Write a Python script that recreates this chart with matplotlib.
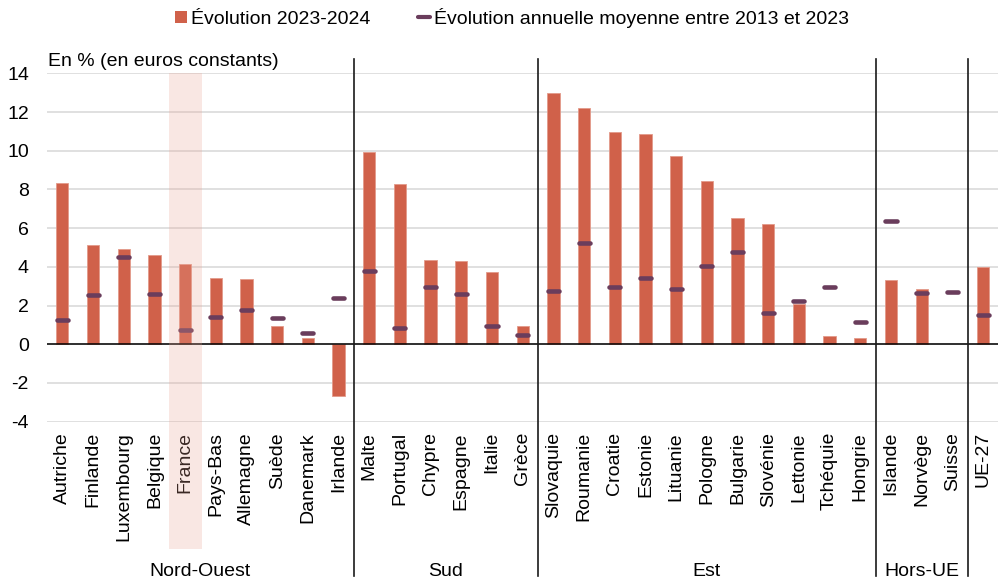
import numpy as np
import matplotlib
matplotlib.use("Agg")
import matplotlib.pyplot as plt
from matplotlib.patches import Patch, Rectangle
from matplotlib.lines import Line2D
import matplotlib.transforms as mtransforms

plt.rcParams['font.family'] = ['Liberation Sans', 'DejaVu Sans']
plt.rcParams['font.size'] = 14

# Countries, in display order
countries = ["Autriche", "Finlande", "Luxembourg", "Belgique", "France", "Pays-Bas",
             "Allemagne", "Suède", "Danemark", "Irlande",
             "Malte", "Portugal", "Chypre", "Espagne", "Italie", "Grèce",
             "Slovaquie", "Roumanie", "Croatie", "Estonie", "Lituanie", "Pologne",
             "Bulgarie", "Slovénie", "Lettonie", "Tchéquie", "Hongrie",
             "Islande", "Norvège", "Suisse", "UE-27"]

# Évolution 2023-2024 (%)
evol_2023_2024 = [8.35, 5.12, 4.93, 4.63, 4.16, 3.42, 3.37, 0.96, 0.35, -2.67,
                  9.95, 8.28, 4.33, 4.28, 3.71, 0.93,
                  13.0, 12.19, 10.97, 10.84, 9.71, 8.43, 6.52, 6.21, 2.10, 0.45, 0.31,
                  3.31, 2.88, np.nan, 4.00]

# Évolution annuelle moyenne entre 2013 et 2023 (%)
evol_moy_2013_2023 = [1.28, 2.53, 4.50, 2.59, 0.76, 1.40, 1.79, 1.38, 0.60, 2.40,
                      3.78, 0.83, 2.97, 2.59, 0.95, 0.47,
                      2.76, 5.21, 2.98, 3.43, 2.88, 4.07, 4.78, 1.60, 2.22, 2.98, 1.16,
                      6.36, 2.64, 2.72, 1.50]

# Regional groups: (label, first index, last index)
groups = [("Nord-Ouest", 0, 9), ("Sud", 10, 15), ("Est", 16, 26), ("Hors-UE", 27, 29)]
separators = [9.5, 15.5, 26.5, 29.5]
highlight = "France"

bar_color = "#D0614A"
mark_color = "#6A3D5C"
grid_color = "#DADADA"

W, H = 1001, 582
fig = plt.figure(figsize=(W / 100, H / 100), dpi=100)
ax = fig.add_axes([47 / W, 1 - 421.7 / H, (998.4 - 47) / W, 348.4 / H])

x = np.arange(len(countries))
ax.bar(x, evol_2023_2024, width=0.4, color=bar_color, edgecolor="#E39A8A",
       linewidth=0.6, zorder=2)
marks = ax.hlines(evol_moy_2013_2023, x - 0.18, x + 0.18, colors=mark_color,
                  linewidth=3.3, zorder=3)
marks.set_capstyle("round")

ax.set_xlim(-0.5, len(countries) - 0.5)
ax.set_ylim(-4, 14)
ax.set_yticks(np.arange(-4, 15, 2))
ax.set_yticklabels([str(v) for v in range(-4, 15, 2)])
ax.yaxis.grid(True, color=grid_color, linewidth=1.2, zorder=0)
ax.set_axisbelow(True)
ax.axhline(0, color="black", linewidth=1.1, zorder=4)

ax.set_xticks(x)
ax.set_xticklabels(countries, rotation=90, va="top", ha="center")
ax.tick_params(axis="x", length=0, pad=7.5)
ax.tick_params(axis="y", length=0, pad=13)
for s in ax.spines.values():
    s.set_visible(False)

# Group separators running from the top of the plot down through the labels
for sx in separators:
    ax.axvline(sx, ymin=-0.443, ymax=1.041, color="#1a1a1a", linewidth=1.2,
               clip_on=False, zorder=4)

# Group names under the country labels
blend = mtransforms.blended_transform_factory(ax.transData, fig.transFigure)
for name, i0, i1 in groups:
    ax.text((i0 + i1) / 2, (H - 576.5) / H, name, transform=blend,
            ha="center", va="baseline", fontsize=14)

# Highlight band for France, drawn over the bar and its label
xtrans = mtransforms.blended_transform_factory(ax.transData, ax.transAxes)
hi = countries.index(highlight)
band = Rectangle((hi - 0.535, -0.365), 1.07, 1.365, transform=xtrans,
                 facecolor="#EBA393", alpha=0.25, edgecolor="none",
                 clip_on=False, zorder=6)
ax.add_patch(band)

fig.text(48 / W, 1 - 66 / H, "En % (en euros constants)", ha="left",
         va="baseline", fontsize=14)

handles = [Patch(facecolor=bar_color, edgecolor="none"),
           Line2D([0], [0], color=mark_color, linewidth=3.0, solid_capstyle="round")]
fig.legend(handles, ["Évolution 2023-2024",
                     "Évolution annuelle moyenne entre 2013 et 2023"],
           loc="center", bbox_to_anchor=(512 / W, 1 - 18 / H), ncol=2,
           frameon=False, handlelength=0.62, handleheight=0.62,
           handletextpad=0.25, columnspacing=2.4, borderpad=0, fontsize=14)

fig.savefig("out.png", dpi=100, facecolor="white")
